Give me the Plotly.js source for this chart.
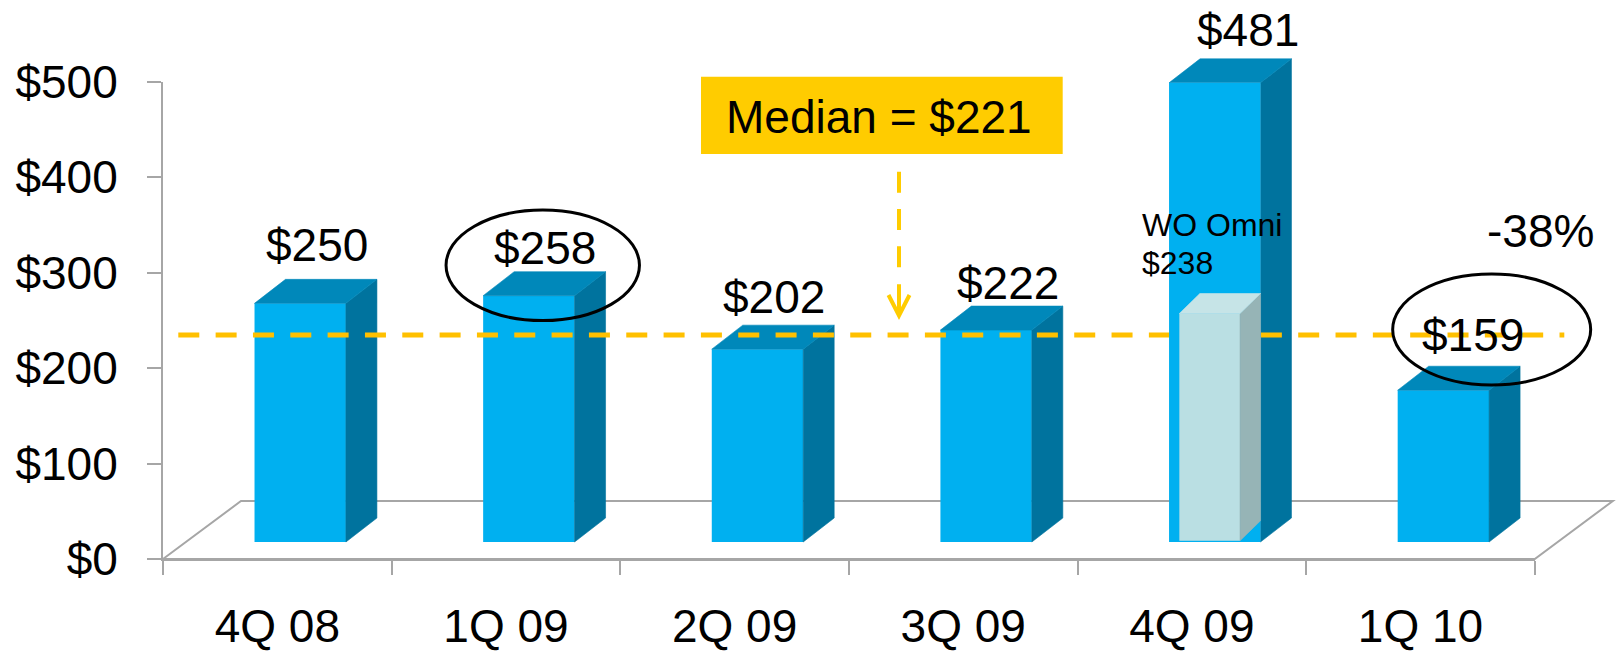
<!DOCTYPE html>
<html>
<head>
<meta charset="utf-8">
<script src="https://cdn.plot.ly/plotly-3.0.1.min.js"></script>
<style>
  html, body { margin: 0; padding: 0; background: #ffffff; }
  #chart { width: 1616px; height: 654px; }
</style>
</head>
<body>
<div id="chart"></div>
<script>
// ---------------- data ----------------
const quarters = ['4Q 08', '1Q 09', '2Q 09', '3Q 09', '4Q 09', '1Q 10'];
const avgValues = [250, 258, 202, 222, 481, 159];
const withoutOmniValue = 238;          // 4Q 09 without Omni
const withoutOmniLabel = 'WO Omni';
const medianValue = 221;
const changeLabel = '-38%';
const yTickValues = [0, 100, 200, 300, 400, 500];
const circledBars = [1, 5];            // 1Q 09 and 1Q 10 are circled
const frontBarIndex = 4;               // 4Q 09 is drawn in front of the median line

// ---------------- geometry / style ----------------
const W = 1616, H = 654;
const AX_L = 163, AX_R = 1534.8, AX_B = 559, AX_T = 81.7, Y_MAX = 500;
const PPC = (AX_R - AX_L) / quarters.length;   // px per category
const PPU = (AX_B - AX_T) / Y_MAX;             // px per value unit
const pxToCat = px => px / PPC;
const pxToVal = px => px / PPU;

const FONT = 'Liberation Sans, Arial, Helvetica, sans-serif';
const GRAY = '#A6A6A6';
const FRONT = '#00B0F0', SIDE = '#00739E', TOP = '#0088BA';
const L_FRONT = '#BADFE3', L_SIDE = '#96B4B6', L_TOP = '#C6E4E7';
const GOLD = '#FFC000', BOXGOLD = '#FFCC00';

// 3-D bar projection
const BASE = pxToVal(17);          // front face starts slightly above the axis line
const BAR_OFF = pxToCat(-22.8), BAR_W = pxToCat(91.4);
const DX = pxToCat(31), DY = pxToVal(24);
const L_BASE = pxToVal(18.3), L_OFF = pxToCat(-12.5), L_W = pxToCat(60.7);
const L_DX = pxToCat(20.5), L_DY = pxToVal(20);
const FLOOR_DX = pxToCat(78), FLOOR_DY = pxToVal(58);

// label nudges (px, right / up) relative to the front-top centre of each bar
const labelNudgeX = [16.5, 16.2, 16.2, 21.6, 32.8, 29.9];
const labelNudgeY = [57.9, 47.9, 52.5, 47.4, 53.3, 55.2];
// ellipse centres (px, right / up) relative to the same point, and radii
const ellipseStyle = {1: {cx: 13.9, cy: 30.4, rx: 96.7, ry: 55.3},
                      5: {cx: 48.3, cy: 60.7, rx: 99, ry: 55.5}};

const x2Range = [-0.5 - AX_L / PPC, -0.5 + (W - AX_L) / PPC];
const y2Range = [-(H - AX_B) / PPU, AX_B / PPU];
const fx = px => px / W;
const fy = py => 1 - py / H;

// ---------------- traces ----------------
const idx = quarters.map((_, i) => i);
const backIdx = idx.filter(i => i !== frontBarIndex);
const traces = [];

// carrier of the category axis
traces.push({
  type: 'scatter', x: quarters, y: avgValues, xaxis: 'x', yaxis: 'y',
  mode: 'markers', marker: {opacity: 0, size: 1}, hoverinfo: 'skip', showlegend: false
});

// front faces (back layer)
traces.push({
  type: 'bar', x: backIdx, y: backIdx.map(i => avgValues[i]), base: BASE,
  offset: BAR_OFF, width: BAR_W, xaxis: 'x2', yaxis: 'y2',
  marker: {color: FRONT, line: {width: 0}}, hoverinfo: 'skip', showlegend: false
});

function face(pts, color, xa, ya) {
  return {
    type: 'scatter', mode: 'lines', fill: 'toself', fillcolor: color,
    x: pts.map(p => p[0]), y: pts.map(p => p[1]),
    line: {color: color, width: 0.6}, xaxis: xa, yaxis: ya,
    hoverinfo: 'skip', showlegend: false
  };
}
function boxFaces(i, v, base, off, w, dx, dy, sideC, topC, xa, ya) {
  const xl = i + off, xr = i + off + w, t = base + v;
  return [
    face([[xr, base], [xr + dx, base + dy], [xr + dx, t + dy], [xr, t], [xr, base]], sideC, xa, ya),
    face([[xl, t], [xl + dx, t + dy], [xr + dx, t + dy], [xr, t], [xl, t]], topC, xa, ya)
  ];
}
idx.forEach(i => {
  boxFaces(i, avgValues[i], BASE, BAR_OFF, BAR_W, DX, DY, SIDE, TOP, 'x2', 'y2')
    .forEach(t => traces.push(t));
});

// median dashed line
const MED_NUDGE = pxToVal(-4);
const medY = medianValue + BASE + MED_NUDGE;
traces.push({
  type: 'scatter', mode: 'lines', xaxis: 'x2', yaxis: 'y2',
  x: [-0.5 + pxToCat(178.3 - AX_L), -0.5 + pxToCat(1564.3 - AX_L)], y: [medY, medY],
  line: {color: GOLD, width: 5, dash: '21px,16.33px'}, hoverinfo: 'skip', showlegend: false
});

// front layer: 4Q 09 bar and the "without Omni" bar
traces.push({
  type: 'bar', x: [frontBarIndex], y: [avgValues[frontBarIndex]], base: BASE,
  offset: BAR_OFF, width: BAR_W, xaxis: 'x3', yaxis: 'y3',
  marker: {color: FRONT, line: {width: 0}}, hoverinfo: 'skip', showlegend: false
});
traces.push({
  type: 'bar', x: [frontBarIndex], y: [withoutOmniValue], base: L_BASE,
  offset: L_OFF, width: L_W, xaxis: 'x3', yaxis: 'y3',
  marker: {color: L_FRONT, line: {width: 0}}, hoverinfo: 'skip', showlegend: false
});
boxFaces(frontBarIndex, withoutOmniValue, L_BASE, L_OFF, L_W, L_DX, L_DY, L_SIDE, L_TOP, 'x3', 'y3')
  .forEach(t => traces.push(t));

// ---------------- shapes ----------------
const shapes = [];
// floor
shapes.push({
  type: 'path', xref: 'x2', yref: 'y2', layer: 'below',
  path: `M -0.5,0 L ${-0.5 + FLOOR_DX},${FLOOR_DY} L ${quarters.length - 0.5 + FLOOR_DX},${FLOOR_DY} L ${quarters.length - 0.5},0 Z`,
  line: {color: GRAY, width: 2}, fillcolor: 'rgba(0,0,0,0)'
});
// ellipses
circledBars.forEach(i => {
  const e = ellipseStyle[i];
  shapes.push({
    type: 'circle', xref: 'x2', yref: 'y2', xsizemode: 'pixel', ysizemode: 'pixel',
    xanchor: i + BAR_OFF + BAR_W / 2, yanchor: BASE + avgValues[i],
    x0: e.cx - e.rx, x1: e.cx + e.rx, y0: e.cy - e.ry, y1: e.cy + e.ry,
    line: {color: '#000000', width: 3}, layer: 'above'
  });
});
// median call-out box
shapes.push({
  type: 'rect', xref: 'paper', yref: 'paper', x0: fx(701), x1: fx(1062.7), y0: fy(154), y1: fy(76.7),
  fillcolor: BOXGOLD, line: {width: 0}, layer: 'above'
});
// dashed arrow
const AX = fx(899);
shapes.push({
  type: 'line', xref: 'paper', yref: 'paper', x0: AX, x1: AX, y0: fy(171.7), y1: fy(283.8),
  line: {color: BOXGOLD, width: 4, dash: '21px,16.33px'}, layer: 'above'
});
shapes.push({
  type: 'path', xref: 'paper', yref: 'paper', layer: 'above',
  path: `M ${AX},${fy(284.2)} L ${AX},${fy(313)} M ${fx(888.5)},${fy(295)} L ${AX},${fy(315.5)} L ${fx(909.5)},${fy(295)}`,
  line: {color: BOXGOLD, width: 4}
});

// ---------------- annotations ----------------
const annotations = [];
idx.forEach(i => {
  annotations.push({
    xref: 'x2', yref: 'y2', x: i + BAR_OFF + BAR_W / 2, y: BASE + avgValues[i],
    xshift: labelNudgeX[i], yshift: labelNudgeY[i],
    text: '$' + avgValues[i], showarrow: false, xanchor: 'center', yanchor: 'middle',
    font: {family: FONT, size: 46, color: '#000000'}, borderpad: 0
  });
});
annotations.push({
  xref: 'paper', yref: 'paper', x: fx(879), y: fy(117), text: 'Median = $' + medianValue,
  showarrow: false, xanchor: 'center', yanchor: 'middle', borderpad: 0,
  font: {family: FONT, size: 46, color: '#000000'}
});
annotations.push({
  xref: 'paper', yref: 'paper', x: fx(1141), y: fy(225.3), text: withoutOmniLabel,
  showarrow: false, xanchor: 'left', yanchor: 'middle', borderpad: 0,
  font: {family: FONT, size: 32, color: '#000000'}
});
annotations.push({
  xref: 'paper', yref: 'paper', x: fx(1140.5), y: fy(262.5), text: '$' + withoutOmniValue,
  showarrow: false, xanchor: 'left', yanchor: 'middle', borderpad: 0,
  font: {family: FONT, size: 32, color: '#000000'}
});
annotations.push({
  xref: 'paper', yref: 'paper', x: fx(1540.5), y: fy(231.3), text: changeLabel,
  showarrow: false, xanchor: 'center', yanchor: 'middle', borderpad: 0,
  font: {family: FONT, size: 46, color: '#000000'}
});

// ---------------- layout ----------------
const hidden = {visible: false, fixedrange: true, showgrid: false, zeroline: false};
const layout = {
  width: W, height: H, margin: {l: 0, r: 0, t: 0, b: 0, pad: 0},
  paper_bgcolor: '#ffffff', plot_bgcolor: 'rgba(0,0,0,0)',
  showlegend: false, barmode: 'overlay',
  font: {family: FONT, size: 46, color: '#000000'},
  xaxis: {
    domain: [fx(AX_L), fx(AX_R)], anchor: 'y', type: 'category',
    categoryorder: 'array', categoryarray: quarters, range: [-0.5, quarters.length - 0.5],
    showline: true, linecolor: GRAY, linewidth: 2, showgrid: false, zeroline: false,
    ticks: 'outside', tickson: 'boundaries', ticklen: 14, tickwidth: 2, tickcolor: GRAY,
    ticklabelstandoff: 26, tickfont: {family: FONT, size: 46, color: '#000000'}
  },
  yaxis: {
    domain: [fy(AX_B), fy(AX_T)], anchor: 'x', range: [0, Y_MAX],
    tickvals: yTickValues, ticktext: yTickValues.map(v => '$' + v),
    showline: true, linecolor: GRAY, linewidth: 2, showgrid: false, zeroline: false,
    ticks: 'outside', ticklen: 14, tickwidth: 2, tickcolor: GRAY,
    ticklabelstandoff: 20, tickfont: {family: FONT, size: 46, color: '#000000'}
  },
  xaxis2: Object.assign({domain: [0, 1], anchor: 'y2', range: x2Range, type: 'linear'}, hidden),
  yaxis2: Object.assign({domain: [0, 1], anchor: 'x2', range: y2Range, type: 'linear'}, hidden),
  xaxis3: Object.assign({domain: [0, 1], anchor: 'y3', range: x2Range, type: 'linear'}, hidden),
  yaxis3: Object.assign({domain: [0, 1], anchor: 'x3', range: y2Range, type: 'linear'}, hidden),
  shapes: shapes,
  annotations: annotations
};

Plotly.newPlot('chart', traces, layout, {staticPlot: true, displayModeBar: false, responsive: false});
</script>
</body>
</html>
